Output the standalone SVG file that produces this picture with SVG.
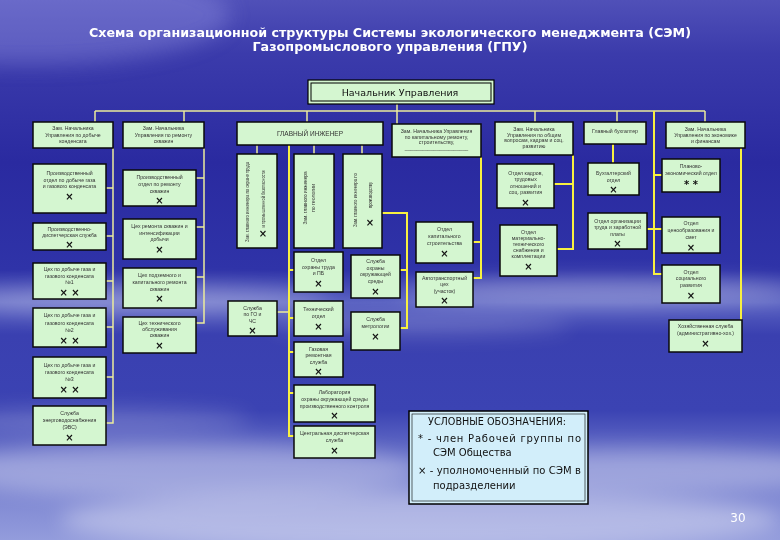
<svg xmlns="http://www.w3.org/2000/svg" width="780" height="540" viewBox="0 0 780 540">
<defs>
<linearGradient id="bg" x1="0" y1="0" x2="0" y2="1">
<stop offset="0" stop-color="#5050b8"/>
<stop offset="0.1" stop-color="#3b3bab"/>
<stop offset="0.3" stop-color="#2a2aa0"/>
<stop offset="0.5" stop-color="#2f33a8"/>
<stop offset="0.56" stop-color="#5a62c2"/>
<stop offset="0.62" stop-color="#3a40b0"/>
<stop offset="0.76" stop-color="#3b43b3"/>
<stop offset="0.86" stop-color="#7079cc"/>
<stop offset="1" stop-color="#939cdc"/>
</linearGradient>
<filter id="blur" x="-50%" y="-50%" width="200%" height="200%"><feGaussianBlur stdDeviation="10"/></filter>
<style>
.box{fill:#d4f6d0;stroke:#0a0a0a;stroke-width:1.5}
.t{font-family:"Liberation Sans",Arial,sans-serif;font-size:5.2px;fill:#333;text-anchor:middle}
.x{font-family:"DejaVu Sans",sans-serif;font-size:10px;font-weight:bold;fill:#111;text-anchor:middle}
.c{stroke:#ecec9c;stroke-width:1.5;fill:none}
.cy{stroke:#f8f040;stroke-width:2;fill:none}
.title{font-family:"DejaVu Sans",sans-serif;font-size:12.5px;font-weight:bold;fill:#fff;text-anchor:middle}
.lg{font-family:"DejaVu Sans",sans-serif;font-size:10px;fill:#111}
</style>
</defs>
<rect width="780" height="540" fill="url(#bg)"/>
<g filter="url(#blur)" fill="#fff">
<ellipse cx="30" cy="15" rx="200" ry="50" fill="#9a9ae8" opacity="0.35"/>
<ellipse cx="140" cy="300" rx="190" ry="14" opacity="0.3"/>
<ellipse cx="600" cy="292" rx="200" ry="14" opacity="0.3"/>
<ellipse cx="420" cy="325" rx="150" ry="10" opacity="0.2"/>
<ellipse cx="180" cy="470" rx="240" ry="28" opacity="0.3"/>
<ellipse cx="640" cy="470" rx="200" ry="22" opacity="0.3"/>
<ellipse cx="420" cy="520" rx="360" ry="30" opacity="0.35"/>
<ellipse cx="100" cy="420" rx="150" ry="12" opacity="0.2"/>
</g>

<text class="title" x="390" y="37" textLength="602" lengthAdjust="spacingAndGlyphs">Схема организационной структуры Системы экологического менеджмента (СЭМ)</text>
<text class="title" x="390" y="51" textLength="275" lengthAdjust="spacingAndGlyphs">Газопромыслового управления (ГПУ)</text>

<g id="connectors">
<path class="c" d="M397,104 V124 M95,111 H705 M95,111 V122 M184,111 V122 M307,111 V122 M535,111 V122 M617,111 V122 M705,111 V122"/>
<path class="c" d="M113,148 V423 H106 M106,188 H113 M106,236 H113 M106,281 H113 M106,327 H113 M106,377 H113"/>
<path class="c" d="M204,148 V323 H196 M196,178 H204 M196,227 H204 M196,277 H204"/>
<path class="c" d="M257,145 V154 M314,145 V154 M362,145 V154 M277,312 H289"/>
<path class="cy" d="M382,213 H407 V328 H400 M400,270 H407"/>
<path class="cy" stroke-width="2.5" d="M289,145 V436 H294 M289,270 H294 M289,318 H294 M289,352 H294 M289,393 H294"/>
<path class="cy" d="M481,157 V278 H473 M473,242 H481"/>
<path class="cy" d="M573,155 V249 H557 M554,184 H573"/>
<path class="cy" d="M613,144 V163"/>
<path class="cy" stroke-width="1.5" d="M654,111 V274 H662 M654,175 H662 M647,229 H662"/>
<path class="cy" d="M741,148 V320"/>
</g>

<g id="n-head">
<rect x="308" y="80" width="186" height="24" fill="#d4f6d0" stroke="#000" stroke-width="1.2"/>
<rect x="311" y="83" width="180" height="18" fill="none" stroke="#000" stroke-width="1"/>
<text x="400" y="95.5" font-family="DejaVu Sans, sans-serif" font-size="9.5" fill="#111" text-anchor="middle">Начальник Управления</text>
</g>

<g id="n-t1"><rect class="box" x="33" y="122" width="80" height="26"/>
<text class="t"><tspan x="73" y="130">Зам. Начальника</tspan><tspan x="73" y="136.5">Управления по добыче</tspan><tspan x="73" y="143">конденсата</tspan></text></g>
<g id="n-t2"><rect class="box" x="123" y="122" width="81" height="26"/>
<text class="t"><tspan x="163.5" y="130">Зам. Начальника</tspan><tspan x="163.5" y="136.5">Управления по ремонту</tspan><tspan x="163.5" y="143">скважин</tspan></text></g>
<g id="n-t3"><rect class="box" x="237" y="122" width="146" height="23"/>
<text x="310" y="136" font-family="Liberation Sans, Arial, sans-serif" font-size="6.5" fill="#333" text-anchor="middle">ГЛАВНЫЙ ИНЖЕНЕР</text></g>
<g id="n-t4"><rect class="box" x="392" y="124" width="89" height="33"/>
<text class="t"><tspan x="436.5" y="133">Зам. Начальника Управления</tspan><tspan x="436.5" y="138.5">по капитальному ремонту,</tspan><tspan x="436.5" y="144">строительству,</tspan><tspan x="436.5" y="150">______________________</tspan></text></g>
<g id="n-t5"><rect class="box" x="495" y="122" width="78" height="33"/>
<text class="t"><tspan x="534" y="131">Зам. Начальника</tspan><tspan x="534" y="136.5">Управления по общим</tspan><tspan x="534" y="142">вопросам, кадрам и соц.</tspan><tspan x="534" y="147.5">развитию</tspan></text></g>
<g id="n-t6"><rect class="box" x="584" y="122" width="62" height="22"/>
<text class="t"><tspan x="615" y="133">Главный бухгалтер</tspan></text></g>
<g id="n-t7"><rect class="box" x="666" y="122" width="79" height="26"/>
<text class="t"><tspan x="705.5" y="131">Зам. Начальника</tspan><tspan x="705.5" y="137">Управления по экономике</tspan><tspan x="705.5" y="143">и финансам</tspan></text></g>

<g id="n-l1"><rect class="box" x="33" y="164" width="73" height="49"/>
<text class="t"><tspan x="69.5" y="175">Производственный</tspan><tspan x="69.5" y="181.5">отдел по добыче газа</tspan><tspan x="69.5" y="188">и газового конденсата</tspan></text><text class="x" x="69.5" y="200">×</text></g>
<g id="n-l2"><rect class="box" x="33" y="223" width="73" height="27"/>
<text class="t"><tspan x="69.5" y="231">Производственно-</tspan><tspan x="69.5" y="237">диспетчерская служба</tspan></text><text class="x" x="69.5" y="248">×</text></g>
<g id="n-l3"><rect class="box" x="33" y="263" width="73" height="36"/>
<text class="t"><tspan x="69.5" y="271">Цех по добыче газа и</tspan><tspan x="69.5" y="277.5">газового конденсата</tspan><tspan x="69.5" y="284">№1</tspan></text><text class="x" x="69.5" y="296">× ×</text></g>
<g id="n-l4"><rect class="box" x="33" y="308" width="73" height="39"/>
<text class="t"><tspan x="69.5" y="317">Цех по добыче газа и</tspan><tspan x="69.5" y="324.5">газового конденсата</tspan><tspan x="69.5" y="331.5">№2</tspan></text><text class="x" x="69.5" y="344">× ×</text></g>
<g id="n-l5"><rect class="box" x="33" y="357" width="73" height="41"/>
<text class="t"><tspan x="69.5" y="367">Цех по добыче газа и</tspan><tspan x="69.5" y="374">газового конденсата</tspan><tspan x="69.5" y="380.5">№3</tspan></text><text class="x" x="69.5" y="393">× ×</text></g>
<g id="n-l6"><rect class="box" x="33" y="406" width="73" height="39"/>
<text class="t"><tspan x="69.5" y="415">Служба</tspan><tspan x="69.5" y="422">энерговодоснабжения</tspan><tspan x="69.5" y="429">(ЭВС)</tspan></text><text class="x" x="69.5" y="441">×</text></g>

<g id="n-c1"><rect class="box" x="123" y="170" width="73" height="36"/>
<text class="t"><tspan x="159.5" y="179">Производственный</tspan><tspan x="159.5" y="186">отдел по ремонту</tspan><tspan x="159.5" y="193">скважин</tspan></text><text class="x" x="159.5" y="204">×</text></g>
<g id="n-c2"><rect class="box" x="123" y="219" width="73" height="40"/>
<text class="t"><tspan x="159.5" y="228">Цех ремонта скважин и</tspan><tspan x="159.5" y="234.5">интенсификации</tspan><tspan x="159.5" y="241">добычи</tspan></text><text class="x" x="159.5" y="253">×</text></g>
<g id="n-c3"><rect class="box" x="123" y="268" width="73" height="40"/>
<text class="t"><tspan x="159.5" y="277">Цех подземного и</tspan><tspan x="159.5" y="284">капитального ремонта</tspan><tspan x="159.5" y="290.5">скважин</tspan></text><text class="x" x="159.5" y="302">×</text></g>
<g id="n-c4"><rect class="box" x="123" y="317" width="73" height="36"/>
<text class="t"><tspan x="159.5" y="325">Цех технического</tspan><tspan x="159.5" y="331">обслуживания</tspan><tspan x="159.5" y="337">скважин</tspan></text><text class="x" x="159.5" y="349">×</text></g>

<g id="n-v1"><rect class="box" x="237" y="154" width="40" height="94"/>
<text class="t" transform="translate(249,202) rotate(-90)" textLength="80" lengthAdjust="spacingAndGlyphs">Зам. главного инженера по охране труда</text>
<text class="t" transform="translate(265,199) rotate(-90)" textLength="57" lengthAdjust="spacingAndGlyphs">и промышленной безопасности</text>
<text class="x" x="263" y="237">×</text></g>
<g id="n-v2"><rect class="box" x="294" y="154" width="40" height="94"/>
<text class="t" transform="translate(307,198) rotate(-90)" textLength="53" lengthAdjust="spacingAndGlyphs">Зам. главного инженера</text>
<text class="t" transform="translate(315,198) rotate(-90)">по геологии</text></g>
<g id="n-v3"><rect class="box" x="343" y="154" width="39" height="94"/>
<text class="t" transform="translate(357,200) rotate(-90)" textLength="54" lengthAdjust="spacingAndGlyphs">Зам. главного инженера по</text>
<text class="t" transform="translate(372,195) rotate(-90)" textLength="26" lengthAdjust="spacingAndGlyphs">производству</text>
<text class="x" x="370" y="226">×</text></g>

<g id="n-m1"><rect class="box" x="294" y="252" width="49" height="40"/>
<text class="t"><tspan x="318.5" y="262">Отдел</tspan><tspan x="318.5" y="268.5">охраны труда</tspan><tspan x="318.5" y="275">и ПБ</tspan></text><text class="x" x="318.5" y="287">×</text></g>
<g id="n-m2"><rect class="box" x="351" y="255" width="49" height="43"/>
<text class="t"><tspan x="375.5" y="263">Служба</tspan><tspan x="375.5" y="269.5">охраны</tspan><tspan x="375.5" y="276">окружающей</tspan><tspan x="375.5" y="282.5">среды</tspan></text><text class="x" x="375.5" y="295">×</text></g>
<g id="n-ml"><rect class="box" x="228" y="301" width="49" height="35"/>
<text class="t"><tspan x="252.5" y="310">Служба</tspan><tspan x="252.5" y="316">по ГО и</tspan><tspan x="252.5" y="322.5">ЧС</tspan></text><text class="x" x="252.5" y="334">×</text></g>
<g id="n-m3"><rect class="box" x="294" y="301" width="49" height="35"/>
<text class="t"><tspan x="318.5" y="311">Технический</tspan><tspan x="318.5" y="318">отдел</tspan></text><text class="x" x="318.5" y="330">×</text></g>
<g id="n-m4"><rect class="box" x="351" y="312" width="49" height="38"/>
<text class="t"><tspan x="375.5" y="321">Служба</tspan><tspan x="375.5" y="327.5">метрологии</tspan></text><text class="x" x="375.5" y="340">×</text></g>
<g id="n-m5"><rect class="box" x="294" y="342" width="49" height="35"/>
<text class="t"><tspan x="318.5" y="351">Газовая</tspan><tspan x="318.5" y="357">ремонтная</tspan><tspan x="318.5" y="363.5">служба</tspan></text><text class="x" x="318.5" y="375">×</text></g>
<g id="n-m6"><rect class="box" x="294" y="385" width="81" height="37"/>
<text class="t"><tspan x="334.5" y="394">Лаборатория</tspan><tspan x="334.5" y="401">охраны окружающей среды</tspan><tspan x="334.5" y="408">производственного контроля</tspan></text><text class="x" x="334.5" y="419">×</text></g>
<g id="n-m7"><rect class="box" x="294" y="426" width="81" height="32"/>
<text class="t"><tspan x="334.5" y="435">Центральная диспетчерская</tspan><tspan x="334.5" y="441.5">служба</tspan></text><text class="x" x="334.5" y="454">×</text></g>

<g id="n-rl1"><rect class="box" x="416" y="222" width="57" height="41"/>
<text class="t"><tspan x="444.5" y="231">Отдел</tspan><tspan x="444.5" y="238">капитального</tspan><tspan x="444.5" y="245">строительства</tspan></text><text class="x" x="444.5" y="257">×</text></g>
<g id="n-rl2"><rect class="box" x="416" y="272" width="57" height="35"/>
<text class="t"><tspan x="444.5" y="280">Автотранспортный</tspan><tspan x="444.5" y="286">цех</tspan><tspan x="444.5" y="292.5">(участок)</tspan></text><text class="x" x="444.5" y="304">×</text></g>
<g id="n-r1"><rect class="box" x="497" y="164" width="57" height="44"/>
<text class="t"><tspan x="525.5" y="175">Отдел кадров,</tspan><tspan x="525.5" y="181">трудовых</tspan><tspan x="525.5" y="187.5">отношений и</tspan><tspan x="525.5" y="194">соц. развития</tspan></text><text class="x" x="525.5" y="206">×</text></g>
<g id="n-r2"><rect class="box" x="500" y="225" width="57" height="51"/>
<text class="t"><tspan x="528.5" y="234">Отдел</tspan><tspan x="528.5" y="240">материально-</tspan><tspan x="528.5" y="246">технического</tspan><tspan x="528.5" y="252">снабжения и</tspan><tspan x="528.5" y="258">комплектации</tspan></text><text class="x" x="528.5" y="270">×</text></g>

<g id="n-q1"><rect class="box" x="588" y="163" width="51" height="32"/>
<text class="t"><tspan x="613.5" y="175">Бухгалтерский</tspan><tspan x="613.5" y="182">отдел</tspan></text><text class="x" x="613.5" y="193">×</text></g>
<g id="n-q2"><rect class="box" x="588" y="213" width="59" height="36"/>
<text class="t"><tspan x="617.5" y="223">Отдел организации</tspan><tspan x="617.5" y="229">труда и заработной</tspan><tspan x="617.5" y="235.5">платы</tspan></text><text class="x" x="617.5" y="247">×</text></g>
<g id="n-q3"><rect class="box" x="662" y="159" width="58" height="33"/>
<text class="t"><tspan x="691" y="168">Планово-</tspan><tspan x="691" y="175">экономический отдел</tspan></text><text class="x" x="691" y="188">* *</text></g>
<g id="n-q4"><rect class="box" x="662" y="217" width="58" height="36"/>
<text class="t"><tspan x="691" y="225">Отдел</tspan><tspan x="691" y="232">ценообразования и</tspan><tspan x="691" y="239">смет</tspan></text><text class="x" x="691" y="251">×</text></g>
<g id="n-q5"><rect class="box" x="662" y="265" width="58" height="38"/>
<text class="t"><tspan x="691" y="274">Отдел</tspan><tspan x="691" y="280">социального</tspan><tspan x="691" y="286.5">развития</tspan></text><text class="x" x="691" y="299">×</text></g>
<g id="n-q6"><rect class="box" x="669" y="320" width="73" height="32"/>
<text class="t"><tspan x="705.5" y="328">Хозяйственная служба</tspan><tspan x="705.5" y="335">(административно-хоз.)</tspan></text><text class="x" x="705.5" y="347">×</text></g>

<g id="legend">
<rect x="409" y="411" width="179" height="93" fill="#d2eefa" stroke="#000" stroke-width="1.5"/>
<rect x="412" y="414" width="173" height="87" fill="none" stroke="#000" stroke-width="0.6"/>
<text class="lg" x="428" y="425" textLength="138" lengthAdjust="spacingAndGlyphs">УСЛОВНЫЕ ОБОЗНАЧЕНИЯ:</text>
<text class="lg" x="418" y="442" textLength="163" lengthAdjust="spacing">* - член Рабочей группы по</text>
<text class="lg" x="433" y="456">СЭМ Общества</text>
<text class="lg" x="418" y="474" textLength="163" lengthAdjust="spacing">× - уполномоченный по СЭМ в</text>
<text class="lg" x="433" y="489">подразделении</text>
</g>

<text x="738" y="522" font-family="DejaVu Sans, sans-serif" font-size="12" fill="#fff" text-anchor="middle">30</text>
</svg>
